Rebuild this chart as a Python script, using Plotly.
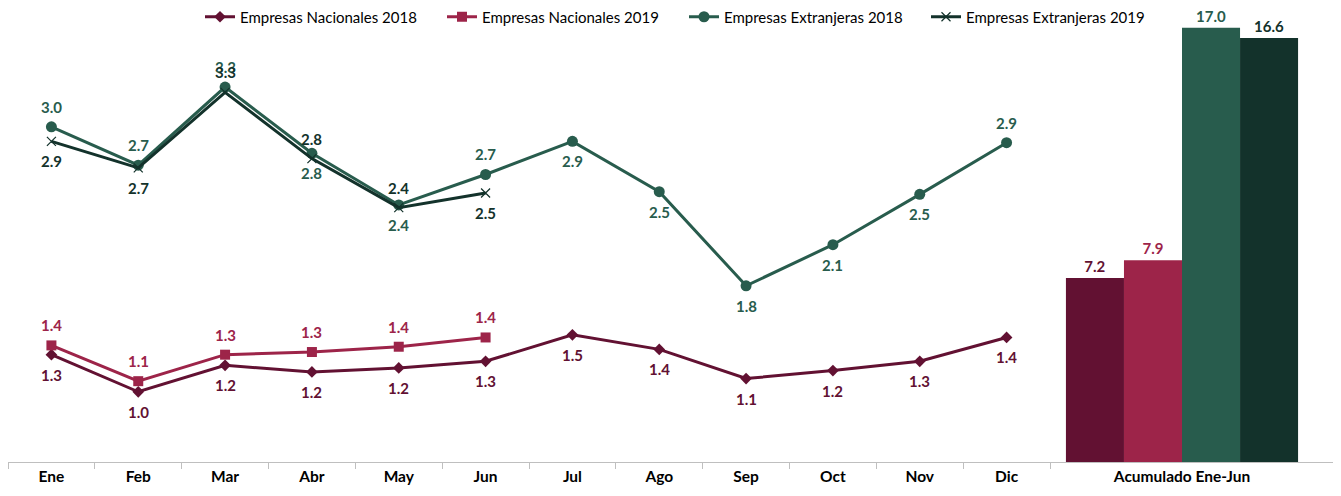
import plotly.graph_objects as go

meses = ["Ene", "Feb", "Mar", "Abr", "May", "Jun", "Jul", "Ago", "Sep", "Oct", "Nov", "Dic"]

nac_2018 = [1.31, 1.03, 1.23, 1.18, 1.21, 1.26, 1.46, 1.35, 1.13, 1.19, 1.26, 1.44]
nac_2019 = [1.38, 1.11, 1.31, 1.33, 1.37, 1.44]
ext_2018 = [3.03, 2.74, 3.33, 2.83, 2.44, 2.67, 2.92, 2.54, 1.83, 2.14, 2.52, 2.91]
ext_2019 = [2.92, 2.72, 3.29, 2.79, 2.42, 2.53]

acum_cat = ["Acumulado Ene-Jun"]
acumulado = [7.2, 7.9, 17.0, 16.6]

nombres = ["Empresas Nacionales 2018", "Empresas Nacionales 2019",
           "Empresas Extranjeras 2018", "Empresas Extranjeras 2019"]
colores = ["#621132", "#9D2449", "#285C4D", "#13322B"]

FONT = "Lato, 'Open Sans', sans-serif"

# page body has an 8px margin, so the figure is a bit smaller than the window
W, H = 1333, 488

# 1 = label above the point, -1 = below
lado_nac18 = [-1] * 12
lado_nac19 = [1] * 6
lado_ext18 = [1, 1, 1, -1, -1, 1, -1, -1, -1, -1, -1, 1]
lado_ext19 = [-1, -1, 1, 1, 1, -1]

fig = go.Figure()

series = [
    (nac_2018, dict(symbol="diamond", size=9), lado_nac18),
    (nac_2019, dict(symbol="square", size=10), lado_nac19),
    (ext_2018, dict(symbol="circle", size=11), lado_ext18),
    (ext_2019, dict(symbol="x-thin", size=9, line=dict(width=1.2, color=colores[3])), lado_ext19),
]

for (vals, mk, lados), nom, col in zip(series, nombres, colores):
    fig.add_trace(go.Scatter(
        x=meses[:len(vals)], y=vals, name=nom, mode="lines+markers",
        line=dict(color=col, width=3), marker=dict(color=col, **mk),
        xaxis="x", yaxis="y",
    ))
    for m, v, s in zip(meses, vals, lados):
        fig.add_annotation(x=m, y=v, xref="x", yref="y", text=f"{v:.1f}", showarrow=False,
                           yshift=20 * s, font=dict(color=col, size=15, family=FONT, weight="bold"))

for v, nom, col in zip(acumulado, nombres, colores):
    fig.add_trace(go.Bar(
        x=acum_cat, y=[v], name=nom, marker=dict(color=col, line=dict(width=0)),
        text=[f"{v:.1f}"], textposition="outside",
        textfont=dict(color=col, size=15, family=FONT, weight="bold"),
        xaxis="x2", yaxis="y2", showlegend=False, cliponaxis=False,
    ))

tick_font = dict(size=15.5, family=FONT, color="#000000", weight="bold")

fig.update_layout(
    width=W, height=H,
    margin=dict(l=0, r=0, t=12, b=34, autoexpand=False),
    paper_bgcolor="white", plot_bgcolor="white",
    barmode="group", bargap=0.27, bargroupgap=0,
    font=dict(family=FONT),
    xaxis=dict(domain=[0, 1042 / W], range=[-0.5, 11.5], showline=True,
               linecolor="#BFBFBF", linewidth=1, ticks="outside", tickcolor="#BFBFBF",
               ticklen=6, tickson="boundaries", showgrid=False, tickfont=tick_font),
    yaxis=dict(range=[0.5, 3.836], visible=False),
    xaxis2=dict(domain=[1015 / W, 1], anchor="y2", showline=True, linecolor="#BFBFBF",
                linewidth=1, ticks="", showgrid=False, tickfont=tick_font),
    yaxis2=dict(range=[0, 17.3], visible=False, anchor="x2"),
    legend=dict(orientation="h", x=192 / W, xanchor="left", y=1 - 9 / H,
                yref="container", yanchor="middle", entrywidth=197,
                font=dict(size=15, family=FONT, color="#000000"), bgcolor="rgba(0,0,0,0)",
                itemwidth=30, tracegroupgap=0),
)

fig.write_html("out.html")
